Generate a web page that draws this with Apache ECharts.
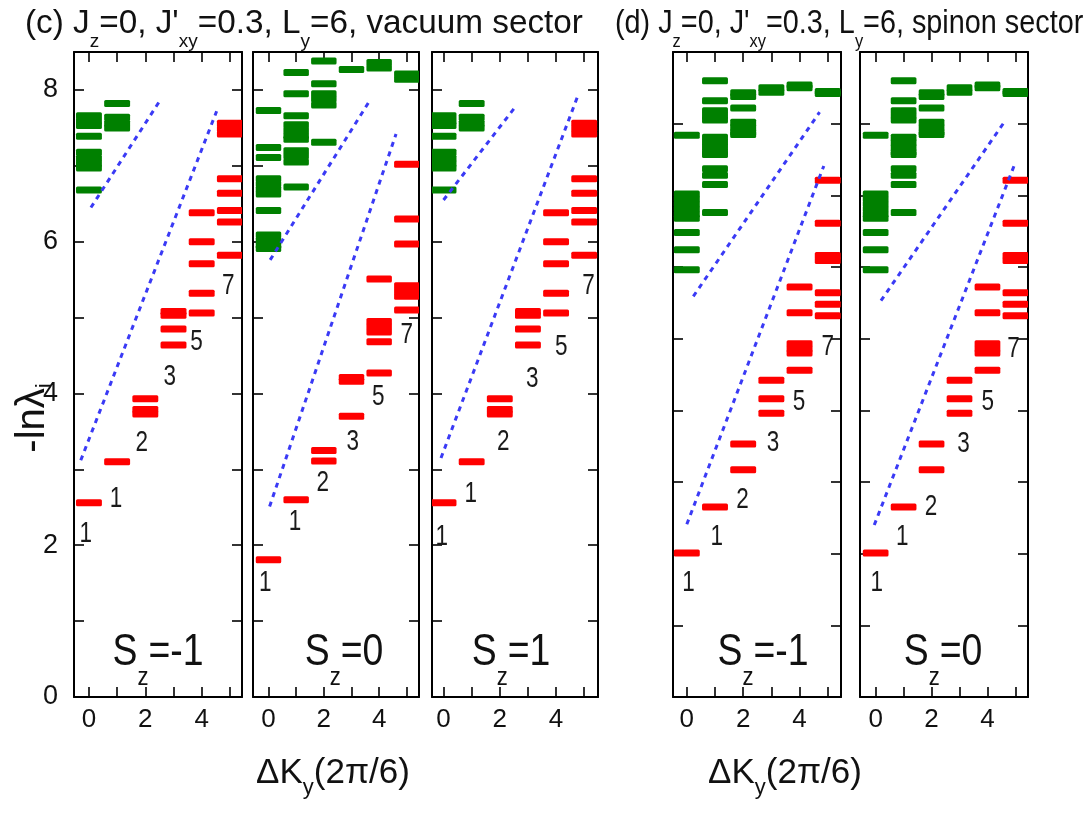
<!DOCTYPE html>
<html><head><meta charset="utf-8">
<script src="https://cdn.jsdelivr.net/npm/echarts@6/dist/echarts.min.js"></script>
<style>html,body{margin:0;padding:0;background:#fff}#c{width:1087px;height:817px}</style>
</head><body><div id="c"></div>
<script>
// ---------------- data ----------------
const xTickValues = [0, 1, 2, 3, 4, 5];
const xLabelValues = [0, 2, 4];
const yTickValuesVac = [0, 1, 2, 3, 4, 5, 6, 7, 8];
const yTickValuesSpin = [0, 1, 2, 3, 4, 5, 6, 7, 8, 9];
const yLabelValues = [0, 2, 4, 6, 8];

// vacuum sector, Sz=-1  [ΔKy, -ln λ]
const vacSzm1Red = [[0,2.56],[1,3.10],[2,3.93],[2,3.79],[2,3.73],[3,5.08],[3,5.03],[3,4.85],[3,4.64],
  [4,6.38],[4,6.00],[4,5.71],[4,5.32],[4,5.06],[5,7.56],[5,7.49],[5,7.42],[5,6.83],[5,6.64],[5,6.41],[5,6.26],[5,5.82]];
const vacSzm1Green = [[0,7.66],[0,7.59],[0,7.53],[0,7.39],[0,7.18],[0,7.10],[0,7.03],[0,6.97],[0,6.68],
  [1,7.82],[1,7.64],[1,7.56],[1,7.50]];
const vacSzm1Lines = [[[0.07,6.45],[2.52,7.86]], [[-0.29,3.12],[4.53,7.72]]];
const vacSzm1Labels = [[-0.11,2.15,'1'],[0.96,2.61,'1'],[1.87,3.35,'2'],[2.87,4.22,'3'],[3.82,4.68,'5'],[4.94,5.42,'7']];

// vacuum sector, Sz=0
const vacSz0Red = [[0,1.81],[1,2.60],[2,3.25],[2,3.11],[3,3.70],[3,4.21],[3,4.16],[4,4.27],[4,4.68],[4,4.95],[4,4.88],[4,4.81],[4,5.51],
  [5,7.02],[5,6.30],[5,5.97],[5,5.42],[5,5.35],[5,5.28],[5,5.10]];
const vacSz0Green = [[0,7.73],[0,7.24],[0,7.11],[0,6.83],[0,6.76],[0,6.69],[0,6.63],[0,6.41],[0,6.09],[0,6.02],[0,5.95],[0,5.91],
  [1,8.23],[1,7.95],[1,7.66],[1,7.54],[1,7.47],[1,7.40],[1,7.35],[1,7.20],[1,7.13],[1,7.05],[1,6.72],
  [2,8.38],[2,8.08],[2,7.95],[2,7.88],[2,7.80],[2,7.31],[3,8.27],[4,8.36],[4,8.29],[5,8.21],[5,8.14]];
const vacSz0Lines = [[[0.06,5.76],[3.61,7.83]], [[0.04,2.51],[4.61,7.42]]];
const vacSz0Labels = [[-0.12,1.50,'1'],[0.96,2.31,'1'],[1.96,2.83,'2'],[3.05,3.36,'3'],[3.97,3.96,'5'],[5.0,4.78,'7']];

// vacuum sector, Sz=1
const vacSzp1Red = [[0,2.56],[1,3.10],[2,3.93],[2,3.79],[2,3.73],[3,5.08],[3,5.03],[3,4.85],[3,4.64],
  [4,6.38],[4,6.00],[4,5.71],[4,5.32],[4,5.06],[5,7.56],[5,7.49],[5,7.42],[5,6.83],[5,6.64],[5,6.41],[5,6.26],[5,5.82]];
const vacSzp1Green = [[0,7.66],[0,7.59],[0,7.53],[0,7.39],[0,7.18],[0,7.10],[0,7.03],[0,6.97],[0,6.68],
  [1,7.82],[1,7.64],[1,7.56],[1,7.50]];
const vacSzp1Lines = [[[0.0,6.55],[2.6,7.8]], [[-0.09,3.15],[4.75,7.9]]];
const vacSzp1Labels = [[-0.06,2.11,'1'],[0.97,2.68,'1'],[2.12,3.36,'2'],[3.15,4.19,'3'],[4.18,4.61,'5'],[5.15,5.42,'7']];

// spinon sector, Sz=-1
const spinSzm1Red = [[0,2.01],[1,2.65],[2,3.53],[2,3.17],[3,4.42],[3,4.16],[3,3.96],[4,4.56],[4,4.93],[4,4.86],[4,4.80],[4,5.36],[4,5.72],
  [5,7.21],[5,6.61],[5,6.16],[5,6.09],[5,5.64],[5,5.48],[5,5.32]];
const spinSzm1Green = [[0,7.84],[0,7.02],[0,6.95],[0,6.88],[0,6.81],[0,6.74],[0,6.68],[0,6.48],[0,6.24],[0,5.96],
  [1,8.60],[1,8.32],[1,8.18],[1,8.11],[1,8.05],[1,7.81],[1,7.74],[1,7.67],[1,7.60],[1,7.57],[1,7.37],[1,7.28],[1,7.15],[1,6.76],
  [2,8.43],[2,8.38],[2,8.22],[2,8.02],[2,7.95],[2,7.88],[2,7.85],[3,8.50],[3,8.44],[4,8.54],[4,8.50],[5,8.45],[5,8.42]];
const spinSzm1Lines = [[[0.23,5.59],[4.71,8.16]], [[0.0,2.41],[4.86,7.41]]];
const spinSzm1Labels = [[0.06,1.59,'1'],[1.06,2.24,'1'],[1.98,2.75,'2'],[3.06,3.55,'3'],[3.98,4.12,'5'],[5.0,4.89,'7']];

// spinon sector, Sz=0
const spinSz0Red = [[0,2.01],[1,2.65],[2,3.53],[2,3.17],[3,4.42],[3,4.16],[3,3.96],[4,4.56],[4,4.93],[4,4.86],[4,4.80],[4,5.36],[4,5.72],
  [5,7.21],[5,6.61],[5,6.16],[5,6.09],[5,5.64],[5,5.48],[5,5.32]];
const spinSz0Green = [[0,7.84],[0,7.02],[0,6.95],[0,6.88],[0,6.81],[0,6.74],[0,6.68],[0,6.48],[0,6.24],[0,5.96],
  [1,8.60],[1,8.32],[1,8.18],[1,8.11],[1,8.05],[1,7.81],[1,7.74],[1,7.67],[1,7.60],[1,7.57],[1,7.37],[1,7.28],[1,7.15],[1,6.76],
  [2,8.43],[2,8.38],[2,8.22],[2,8.02],[2,7.95],[2,7.88],[2,7.85],[3,8.50],[3,8.44],[4,8.54],[4,8.50],[5,8.45],[5,8.42]];
const spinSz0Lines = [[[0.19,5.53],[4.65,8.05]], [[-0.05,2.40],[4.98,7.44]]];
const spinSz0Labels = [[0.04,1.59,'1'],[0.95,2.24,'1'],[1.98,2.66,'2'],[3.14,3.53,'3'],[4.01,4.12,'5'],[4.93,4.86,'7']];

// ---------------- layout / style ----------------
const FONT = '"Liberation Sans", Arial, Helvetica, sans-serif';
const RED = '#ff0000', GREEN = '#008000', BLUE = '#3a3af5', INK = '#111';
const BAR_HALF = 0.46, BAR_H = 7;
const TOP = 52, HEIGHT = 645;

const panels = [
  {left: 74,  width: 168, xmin: -0.53, xmax: 5.43, ymax: 8.5, yt: yTickValuesVac,  red: vacSzm1Red,  green: vacSzm1Green,  lines: vacSzm1Lines,  labels: vacSzm1Labels,  ylab: true},
  {left: 253, width: 166, xmin: -0.56, xmax: 5.44, ymax: 8.5, yt: yTickValuesVac,  red: vacSz0Red,   green: vacSz0Green,   lines: vacSz0Lines,   labels: vacSz0Labels},
  {left: 432, width: 166, xmin: -0.41, xmax: 5.49, ymax: 8.5, yt: yTickValuesVac,  red: vacSzp1Red,  green: vacSzp1Green,  lines: vacSzp1Lines,  labels: vacSzp1Labels},
  {left: 673, width: 168, xmin: -0.49, xmax: 5.47, ymax: 9,   yt: yTickValuesSpin, red: spinSzm1Red, green: spinSzm1Green, lines: spinSzm1Lines, labels: spinSzm1Labels},
  {left: 860, width: 168, xmin: -0.56, xmax: 5.45, ymax: 9,   yt: yTickValuesSpin, red: spinSz0Red,  green: spinSz0Green,  lines: spinSz0Lines,  labels: spinSz0Labels}
];

const grids = [], xAxes = [], yAxes = [], series = [];
const axisLine = {show: true, onZero: false, lineStyle: {color: '#000', width: 2}};

panels.forEach((p, i) => {
  grids.push({left: p.left, top: TOP, width: p.width, height: HEIGHT});
  ['bottom', 'top'].forEach((pos, k) => {
    xAxes.push({
      type: 'value', gridIndex: i, position: pos, min: p.xmin, max: p.xmax,
      axisLine, splitLine: {show: false},
      axisTick: {show: true, inside: true, length: 10, customValues: xTickValues, lineStyle: {color: '#000', width: 1.6}},
      axisLabel: k === 0 ? {show: true, customValues: xLabelValues, fontSize: 26, fontFamily: FONT, color: INK, margin: 10} : {show: false}
    });
  });
  ['left', 'right'].forEach((pos, k) => {
    yAxes.push({
      type: 'value', gridIndex: i, position: pos, min: 0, max: p.ymax,
      axisLine, splitLine: {show: false},
      axisTick: {show: true, inside: true, length: 10, customValues: p.yt, lineStyle: {color: '#000', width: 1.6}},
      axisLabel: (k === 0 && p.ylab) ? {show: true, customValues: yLabelValues, fontSize: 27, fontFamily: FONT, color: INK, margin: 16} : {show: false}
    });
  });
  const xi = 2 * i, yi = 2 * i;
  const bar = (data, color) => ({
    type: 'custom', xAxisIndex: xi, yAxisIndex: yi, data, clip: true, silent: true,
    renderItem: (params, api) => {
      const x = api.value(0), y = api.value(1);
      const a = api.coord([x - BAR_HALF, y]), b = api.coord([x + BAR_HALF, y]);
      return {type: 'rect', shape: {x: a[0], y: a[1] - BAR_H / 2, width: b[0] - a[0], height: BAR_H, r: 1.5}, style: {fill: color}};
    }
  });
  series.push(bar(p.green, GREEN));
  series.push(bar(p.red, RED));
  p.lines.forEach(seg => series.push({
    type: 'line', xAxisIndex: xi, yAxisIndex: yi, data: seg, symbol: 'none', silent: true,
    lineStyle: {color: BLUE, width: 3, type: [5, 5], cap: 'butt'}
  }));
  const labs = p.labels;
  series.push({
    type: 'custom', xAxisIndex: xi, yAxisIndex: yi, silent: true, clip: false,
    data: labs.map(d => [d[0], d[1]]),
    renderItem: (params, api) => {
      const c = api.coord([api.value(0), api.value(1)]);
      return {type: 'text', x: c[0], y: c[1], scaleX: 0.75,
        style: {text: labs[params.dataIndex][2], font: '30px ' + FONT, fill: '#1a1a1a', align: 'center', verticalAlign: 'middle'}};
    }
  });
});

// rich text with subscripts
function subText(x, yCenter, segs, mainFs, subFs, offset, opts) {
  opts = opts || {};
  const text = segs.map(s => (s[1] ? '{s|' + s[0] + '}' : '{m|' + s[0] + '}')).join('');
  const pad = mainFs / 2 + offset - subFs / 2;
  const el = {
    type: 'text', x: x, y: yCenter - mainFs / 2, rotation: opts.rotation || 0, scaleX: opts.scaleX || 1, silent: true,
    style: {
      text, align: opts.align || 'left', verticalAlign: 'top', font: mainFs + 'px ' + FONT,
      rich: {
        m: {font: mainFs + 'px ' + FONT, fontSize: mainFs, fontFamily: FONT, lineHeight: mainFs, fill: INK, verticalAlign: 'top'},
        s: {font: subFs + 'px ' + FONT, fontSize: subFs, fontFamily: FONT, lineHeight: subFs, fill: INK, verticalAlign: 'top', padding: [pad, 0, 0, 0]}
      }
    }
  };
  if (opts.rotation) { el.x = x - mainFs / 2; el.y = yCenter; }
  return el;
}

const graphics = [
  subText(25, 24, [['(c) J'], ['z', 1], ['=0, J\''], ['xy', 1], ['=0.3, L'], ['y', 1], ['=6, vacuum sector']], 33.3, 19, 18),
  subText(615, 24, [['(d) J'], ['z', 1], ['=0, J\''], ['xy', 1], ['=0.3, L'], ['y', 1], ['=6, spinon sector']], 33.3, 19, 18, {scaleX: 0.865}),
  subText(33, 418, [['-ln\u03bb'], ['i', 1]], 40, 22, 12, {rotation: Math.PI / 2, align: 'center'}),
  subText(333, 773, [['\u0394K'], ['y', 1], ['(2\u03c0/6)']], 35, 22, 15, {align: 'center'}),
  subText(785, 773, [['\u0394K'], ['y', 1], ['(2\u03c0/6)']], 35, 22, 15, {align: 'center'}),
  subText(158, 653, [['S'], ['z', 1], ['=-1']], 44, 26, 25, {align: 'center', scaleX: 0.85}),
  subText(344, 653, [['S'], ['z', 1], ['=0']], 44, 26, 25, {align: 'center', scaleX: 0.85}),
  subText(511, 653, [['S'], ['z', 1], ['=1']], 44, 26, 25, {align: 'center', scaleX: 0.85}),
  subText(763, 653, [['S'], ['z', 1], ['=-1']], 44, 26, 25, {align: 'center', scaleX: 0.85}),
  subText(943, 653, [['S'], ['z', 1], ['=0']], 44, 26, 25, {align: 'center', scaleX: 0.85})
];

const chart = echarts.init(document.getElementById('c'), null, {renderer: 'canvas'});
chart.setOption({
  animation: false,
  backgroundColor: '#fff',
  grid: grids, xAxis: xAxes, yAxis: yAxes, series,
  graphic: graphics
});
</script></body></html>
